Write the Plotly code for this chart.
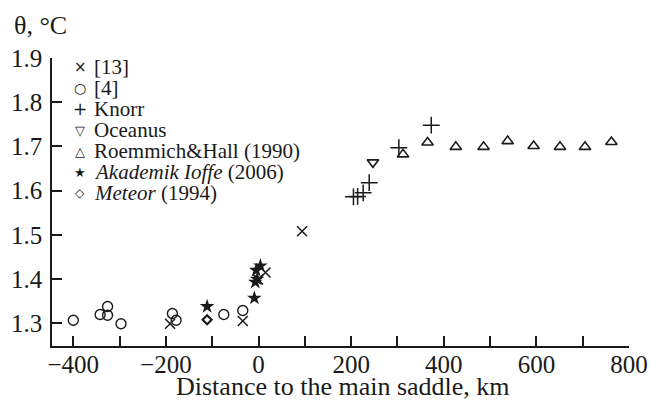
import plotly.graph_objects as go

# ---- data ----
x_13 = [-191, -34, -1, 15, 94]
y_13 = [1.299, 1.305, 1.399, 1.415, 1.508]

x_4 = [-400, -342, -326, -326, -297, -186, -178, -75, -34]
y_4 = [1.307, 1.320, 1.338, 1.318, 1.299, 1.322, 1.307, 1.320, 1.329]

x_knorr = [205, 214, 226, 239, 303, 373]
y_knorr = [1.586, 1.587, 1.595, 1.618, 1.697, 1.748]

x_oceanus = [247]
y_oceanus = [1.664]

x_rh = [312, 365, 426, 486, 538, 594, 651, 705, 762]
y_rh = [1.682, 1.709, 1.699, 1.699, 1.712, 1.701, 1.699, 1.699, 1.710]

x_ioffe = [-111, -9, -7, -3, -5, 4]
y_ioffe = [1.338, 1.357, 1.393, 1.400, 1.420, 1.430]

x_meteor = [-111]
y_meteor = [1.308]

x_tickvals = [-400, -300, -200, -100, 0, 100, 200, 300, 400, 500, 600, 700, 800]
x_ticktext = ["\u2212400", "", "\u2212200", "", "0", "", "200", "", "400", "", "600", "", "800"]
y_tickvals = [1.3, 1.4, 1.5, 1.6, 1.7, 1.8, 1.9]
y_ticktext = ["1.3", "1.4", "1.5", "1.6", "1.7", "1.8", "1.9"]

legend_labels = ["[13]", "[4]", "Knorr", "Oceanus", "Roemmich&Hall (1990)",
                 "<i>Akademik Ioffe</i> (2006)", "<i>Meteor</i> (1994)"]
legend_glyphs = ["\u00d7", "\u25cb", "+", "\u25bd", "\u25b3", "\u2605", "\u25c7"]

INK = "#1a1a1a"
FONT = "Liberation Serif"

fig = go.Figure()

def add(x, y, name, symbol, size, lw, color=INK):
    fig.add_trace(go.Scatter(
        x=x, y=y, mode="markers", name=name, showlegend=False,
        marker=dict(symbol=symbol, size=size, color=color,
                    line=dict(width=lw, color=INK)),
    ))

add(x_13, y_13, "[13]", "x-thin", 10, 1.5)
add(x_4, y_4, "[4]", "circle-open", 10, 1.4)
add(x_knorr, y_knorr, "Knorr", "cross-thin", 12, 1.5)
add(x_oceanus, y_oceanus, "Oceanus", "triangle-down-open", 10, 1.6)
add(x_rh, y_rh, "Roemmich&Hall (1990)", "triangle-up-open", 10, 1.6)
add(x_ioffe, y_ioffe, "Akademik Ioffe (2006)", "star", 11, 0)
add(x_meteor, y_meteor, "Meteor (1994)", "diamond-open", 7, 2.2)

# plot area in pixels: x 52..629, y 58..346
L, R, T, B = 52, 629, 58, 346
W, H = 650, 401

def px2paper(px, py):
    return (px - L) / (R - L), (B - py) / (B - T)

annotations = []
row_y0, row_dy = 67, 21
glyph_sizes = [15, 14, 17, 13, 13, 13, 12]
for i, (g, lab) in enumerate(zip(legend_glyphs, legend_labels)):
    py = row_y0 + i * row_dy
    gx, gy = px2paper(80, py)
    tx, ty = px2paper(92, py)
    annotations.append(dict(x=gx, y=gy, xref="paper", yref="paper", text=g,
                            showarrow=False, xanchor="center", yanchor="middle",
                            font=dict(family="DejaVu Sans", size=glyph_sizes[i], color=INK)))
    annotations.append(dict(x=tx, y=ty, xref="paper", yref="paper", text=lab,
                            showarrow=False, xanchor="left", yanchor="middle",
                            font=dict(family=FONT, size=21, color=INK)))

tx, ty = px2paper(12, 26)
annotations.append(dict(x=tx, y=ty, xref="paper", yref="paper", text="\u03b8, \u00b0C",
                        showarrow=False, xanchor="left", yanchor="middle",
                        font=dict(family=FONT, size=26, color=INK)))
tx, ty = px2paper(343, 386)
annotations.append(dict(x=tx, y=ty, xref="paper", yref="paper",
                        text="Distance to the main saddle, km",
                        showarrow=False, xanchor="center", yanchor="middle",
                        font=dict(family=FONT, size=26, color=INK)))

fig.update_layout(
    width=W, height=H,
    margin=dict(l=L, r=W - R, t=T, b=H - B),
    paper_bgcolor="white", plot_bgcolor="white",
    font=dict(family=FONT, color=INK),
    showlegend=False,
    annotations=annotations,
    xaxis=dict(
        range=[-446, 800], tickmode="array", tickvals=x_tickvals, ticktext=x_ticktext,
        ticks="inside", ticklen=10, tickwidth=1.5, tickcolor=INK,
        showline=True, linecolor=INK, linewidth=1.5, showgrid=False, zeroline=False,
        tickfont=dict(family=FONT, size=25, color=INK), ticklabelstandoff=-5,
        automargin=False,
    ),
    yaxis=dict(
        range=[1.2486, 1.9], tickmode="array", tickvals=y_tickvals, ticktext=y_ticktext,
        ticks="inside", ticklen=10, tickwidth=1.5, tickcolor=INK,
        showline=True, linecolor=INK, linewidth=1.5, showgrid=False, zeroline=False,
        tickfont=dict(family=FONT, size=25, color=INK), ticklabelstandoff=3,
        automargin=False,
    ),
)

fig.write_html("out.html", config={"displayModeBar": False},
               post_script="document.body.style.margin='0';")
